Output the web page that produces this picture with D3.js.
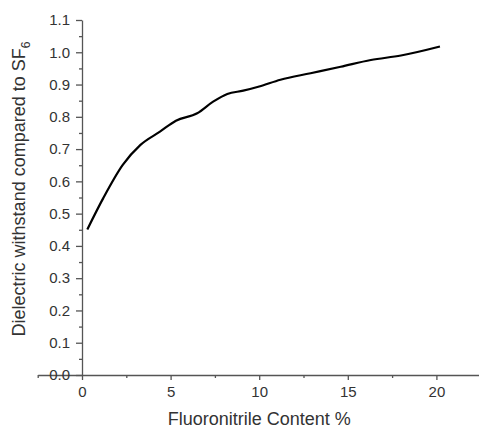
<!DOCTYPE html>
<html lang="en">
<head>
  <meta charset="UTF-8">
  <title>Dielectric withstand vs Fluoronitrile content</title>
  <script src="https://d3js.org/d3.v7.min.js"></script>
  <style>
    body { margin: 0; background: #fff; }
    text { font-family: "Liberation Sans", Arial, sans-serif; }
  </style>
</head>
<body>
  <div class="canvas"></div>
  <script>
    // fluoronitrile content (%) and dielectric withstand relative to SF6
    const content = [0.3, 1.2, 2.3, 3.3, 4.4, 5.3, 6.5, 7.4, 8.2, 9.1, 10.0, 11.2, 12.9, 14.6, 16.3, 18.0, 20.2];
    const withstand = [0.451, 0.548, 0.651, 0.713, 0.754, 0.788, 0.811, 0.847, 0.871, 0.881, 0.894, 0.915, 0.935, 0.955, 0.976, 0.990, 1.018];
    const xTicks = [0, 5, 10, 15, 20];
    const yTicks = [0, 0.1, 0.2, 0.3, 0.4, 0.5, 0.6, 0.7, 0.8, 0.9, 1.0, 1.1];

    const svgWidth = 479;
    const svgHeight = 428;
    const x0 = 82;       // pixel of x = 0
    const xUnit = 17.72; // pixels per 1 %

    const svg = d3.select(".canvas")
      .append("svg")
      .attr("width", svgWidth)
      .attr("height", svgHeight);

    const x = d3.scaleLinear()
      .domain([-2.5, 22.5])
      .range([x0 - 2.5 * xUnit, x0 + 22.5 * xUnit]);
    const y = d3.scaleLinear().domain([0, 1.1]).range([375, 20]);

    const axisColor = "#555";
    const textColor = "#333";

    // x axis: minor ticks first, then major ticks with labels
    const xMinor = svg.append("g")
      .attr("transform", `translate(0, ${y(0)})`)
      .call(d3.axisBottom(x).tickValues(xTicks.map(d => d - 2.5).concat([22.5]))
        .tickSize(3).tickSizeOuter(0).tickFormat(""));
    xMinor.select(".domain").remove();

    const xAxis = svg.append("g")
      .attr("transform", `translate(0, ${y(0)})`)
      .call(d3.axisBottom(x).tickValues(xTicks).tickSize(5).tickSizeOuter(0).tickPadding(6));

    // y axis
    const yMinor = svg.append("g")
      .attr("transform", `translate(${x(0)}, 0)`)
      .call(d3.axisLeft(y).tickValues(yTicks.slice(0, -1).map(d => d + 0.05))
        .tickSize(3).tickSizeOuter(0).tickFormat(""));
    yMinor.select(".domain").remove();

    const yAxis = svg.append("g")
      .attr("transform", `translate(${x(0)}, 0)`)
      .call(d3.axisLeft(y).tickValues(yTicks).tickSize(6).tickSizeOuter(0)
        .tickPadding(6).tickFormat(d3.format(".1f")));

    svg.selectAll(".domain, .tick line").attr("stroke", axisColor).attr("stroke-width", 1.3);
    svg.selectAll(".tick text")
      .attr("fill", textColor)
      .style("font-size", "15px")
      .style("font-family", "'Liberation Sans', Arial, sans-serif");

    // curve
    const line = d3.line()
      .x((d, i) => x(content[i]))
      .y(d => y(d))
      .curve(d3.curveMonotoneX);

    svg.append("path")
      .datum(withstand)
      .attr("fill", "none")
      .attr("stroke", "#000")
      .attr("stroke-width", 2.2)
      .attr("d", line);

    // axis titles
    svg.append("text")
      .attr("x", x(10))
      .attr("y", 425)
      .attr("text-anchor", "middle")
      .attr("fill", textColor)
      .style("font-size", "18px")
      .text("Fluoronitrile Content %");

    const yTitle = svg.append("text")
      .attr("transform", "translate(25, 189) rotate(-90)")
      .attr("text-anchor", "middle")
      .attr("fill", textColor)
      .style("font-size", "18px");
    yTitle.append("tspan").text("Dielectric withstand compared to SF");
    yTitle.append("tspan").attr("dy", 5).style("font-size", "12px").text("6");
  </script>
</body>
</html>
